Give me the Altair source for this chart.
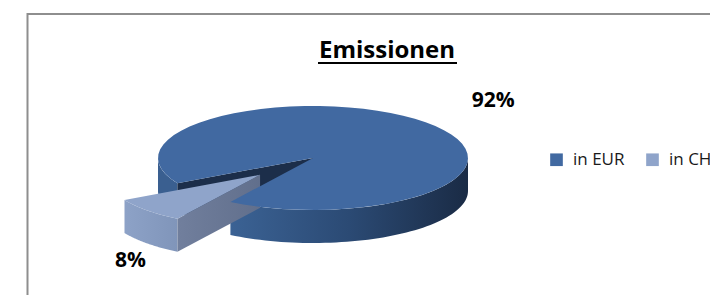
import altair as alt
import pandas as pd

# ---- data ----
names = ["in EUR", "in CH"]
values = [92, 8]
labels = ["92%", "8%"]
TITLE = "Emissionen"

df = pd.DataFrame({"name": names, "value": values, "label": labels, "idx": [0, 1]})

# ---- layout / style parameters ----
W, H = 702, 287
CX, CY = 305, 150
RX, RY = 155, 52
DEPTH = 33
ROT = 151
N = 60
EXPLODE = {"in CH": 0.47}
LABEL_R = {"in EUR": (1.6, 1.6), "in CH": (1.15, 1.48)}
FONT = "Open Sans"

top_colors = ["#4169a1", "#8fa4ca"]

xs = alt.Scale(domain=[0, W], nice=False, zero=False)
ys = alt.Scale(domain=[0, H], nice=False, zero=False, reverse=True)


def expr_by_name(d, default=0):
    s = ""
    for n, v in d.items():
        s += f"datum.name == '{n}' ? {v} : "
    return s + str(default)


def base(ch):
    return (
        ch.transform_window(cum="sum(value)", sort=[{"field": "idx"}])
        .transform_joinaggregate(total="sum(value)")
        .transform_calculate(a0=f"{ROT} + (datum.cum - datum.value) / datum.total * 360")
        .transform_calculate(a1=f"{ROT} + datum.cum / datum.total * 360")
        .transform_calculate(mid="(datum.a0 + datum.a1) / 2")
        .transform_calculate(ex=expr_by_name(EXPLODE))
        .transform_calculate(ox=f"datum.ex * {RX} * cos(datum.mid * PI / 180)")
        .transform_calculate(oy=f"datum.ex * {RY} * sin(datum.mid * PI / 180)")
    )


def enc(ch, group):
    return ch.encode(
        x=alt.X("px:Q", scale=xs, axis=None),
        y=alt.Y("py:Q", scale=ys, axis=None),
        order=alt.Order("vi:Q"),
        detail=alt.Detail(group),
    )


def wall(name, k, fill):
    ch = base(alt.Chart(df))
    ch = (
        ch.transform_filter(f"datum.name == '{name}'")
        .transform_calculate(ks="sequence(0, 3)")
        .transform_flatten(["ks"], as_=["k"])
        .transform_filter(f"datum.k == {k}")
        .transform_calculate(lo="max(datum.a0, 360 * datum.k)")
        .transform_calculate(hi="min(datum.a1, 360 * datum.k + 180)")
        .transform_filter("datum.hi > datum.lo + 0.01")
        .transform_calculate(seq=f"sequence(0, {2 * N + 2})")
        .transform_flatten(["seq"], as_=["vi"])
        .transform_calculate(
            t=f"(datum.vi <= {N} ? datum.lo + datum.vi / {N} * (datum.hi - datum.lo)"
              f" : datum.hi - (datum.vi - {N + 1}) / {N} * (datum.hi - datum.lo)) * PI / 180"
        )
        .transform_calculate(px=f"{CX} + datum.ox + {RX} * cos(datum.t)")
        .transform_calculate(py=f"{CY} + datum.oy + {RY} * sin(datum.t) + (datum.vi <= {N} ? 0 : {DEPTH})")
        .transform_calculate(gid="datum.name + '-' + datum.k")
    )
    return enc(ch.mark_line(fill=fill, strokeWidth=0), "gid:N")


def face(name, fill):
    ch = base(alt.Chart(df))
    ch = (
        ch.transform_filter(f"datum.name == '{name}'")
        .transform_calculate(bs="sequence(0, 2)")
        .transform_flatten(["bs"], as_=["b"])
        .transform_calculate(fa="(datum.b == 0 ? datum.a0 : datum.a1) * PI / 180")
        .transform_filter("datum.b == 0 ? cos(datum.fa) < 0 : cos(datum.fa) > 0")
        .transform_calculate(seq="sequence(0, 4)")
        .transform_flatten(["seq"], as_=["vi"])
        .transform_calculate(r="(datum.vi == 1 || datum.vi == 2) ? 1 : 0")
        .transform_calculate(dz=f"datum.vi >= 2 ? {DEPTH} : 0")
        .transform_calculate(px=f"{CX} + datum.ox + {RX} * datum.r * cos(datum.fa)")
        .transform_calculate(py=f"{CY} + datum.oy + {RY} * datum.r * sin(datum.fa) + datum.dz")
        .transform_calculate(gid="datum.name + '-f' + datum.b")
    )
    return enc(ch.mark_line(fill=fill, strokeWidth=0), "gid:N")


def tops():
    ch = base(alt.Chart(df))
    ch = (
        ch.transform_calculate(seq=f"sequence(0, {N + 2})")
        .transform_flatten(["seq"], as_=["vi"])
        .transform_calculate(t=f"(datum.a0 + (datum.vi - 1) / {N} * (datum.a1 - datum.a0)) * PI / 180")
        .transform_calculate(px=f"{CX} + datum.ox + (datum.vi == 0 ? 0 : {RX} * cos(datum.t))")
        .transform_calculate(py=f"{CY} + datum.oy + (datum.vi == 0 ? 0 : {RY} * sin(datum.t))")
    )
    return ch.mark_line(strokeWidth=0, filled=True).encode(
        x=alt.X("px:Q", scale=xs, axis=None),
        y=alt.Y("py:Q", scale=ys, axis=None),
        order=alt.Order("vi:Q"),
        fill=alt.Fill(
            "name:N",
            scale=alt.Scale(domain=names, range=top_colors),
            sort=names,
            legend=alt.Legend(
                orient="none", legendX=540, legendY=143, direction="horizontal",
                title=None, symbolType="square", symbolSize=160, symbolStrokeWidth=0,
                symbolOpacity=1, labelFont=FONT, labelFontSize=17, labelColor="#1a1a1a",
                labelOffset=8, columnPadding=19, padding=0,
            ),
        ),
    )


def label(name):
    kx, ky = LABEL_R[name]
    ch = base(alt.Chart(df))
    ch = (
        ch.transform_filter(f"datum.name == '{name}'")
        .transform_calculate(
            px=f"{CX} + datum.ox + {RX} * {kx} * cos(datum.mid * PI / 180)")
        .transform_calculate(
            py=f"{CY} + datum.oy + {RY} * {ky} * sin(datum.mid * PI / 180)"
               f" + (sin(datum.mid * PI / 180) > 0 ? {DEPTH} : 0)")
    )
    return ch.mark_text(font=FONT, fontSize=21, fontWeight="bold", color="#000000",
                        align="center", baseline="middle").encode(
        x=alt.X("px:Q", scale=xs, axis=None),
        y=alt.Y("py:Q", scale=ys, axis=None),
        text="label:N",
    )


one = pd.DataFrame({"t": [TITLE]})

border = alt.Chart(one).mark_rect(fill="transparent", stroke="#8e8e8e", strokeWidth=2).encode(
    x=alt.value(19.5), x2=alt.value(W + 30), y=alt.value(6), y2=alt.value(H + 30)
)

title = alt.Chart(one).mark_text(font=FONT, fontSize=24, fontWeight="bold", color="#000000",
                                 align="center", baseline="alphabetic").encode(
    x=alt.value(379), y=alt.value(49.7), text="t:N"
)
underline = alt.Chart(one).mark_rule(color="#000000", strokeWidth=2).encode(
    x=alt.value(310), x2=alt.value(449), y=alt.value(55)
)

grad_eur = alt.Gradient(
    gradient="linear", x1=0, x2=1, y1=0, y2=0,
    stops=[alt.GradientStop(offset=0, color="#3b6294"),
           alt.GradientStop(offset=0.5, color="#2b4a74"),
           alt.GradientStop(offset=1, color="#1a2b45")],
)
grad_ch_wall = alt.Gradient(
    gradient="linear", x1=0, x2=1, y1=0, y2=0,
    stops=[alt.GradientStop(offset=0, color="#8da2c7"),
           alt.GradientStop(offset=1, color="#8095ba")],
)
grad_ch_face = alt.Gradient(
    gradient="linear", x1=0, x2=1, y1=0, y2=0,
    stops=[alt.GradientStop(offset=0, color="#717f9d"),
           alt.GradientStop(offset=1, color="#616f8c")],
)

chart = alt.layer(
    border,
    wall("in EUR", 0, "#3a5f90"),
    wall("in EUR", 1, grad_eur),
    face("in EUR", "#1c2e4a"),
    wall("in CH", 1, grad_ch_wall),
    face("in CH", grad_ch_face),
    tops(),
    label("in EUR"),
    label("in CH"),
    title,
    underline,
).properties(
    width=W, height=H, padding=0, autosize=alt.AutoSizeParams(type="none")
).configure_view(strokeWidth=0)

chart.save("out.html", embed_options={"renderer": "svg", "actions": False})
